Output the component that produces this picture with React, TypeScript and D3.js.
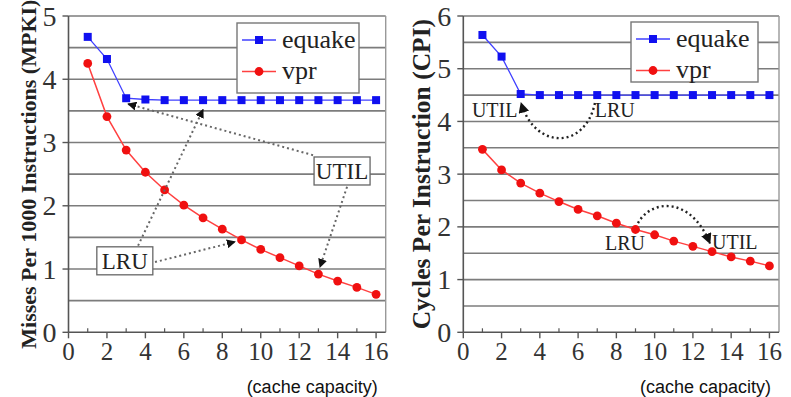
import React from 'react'
import * as d3 from 'd3'

const capacity = [1, 2, 3, 4, 5, 6, 7, 8, 9, 10, 11, 12, 13, 14, 15, 16]
const xTicks = [0, 2, 4, 6, 8, 10, 12, 14, 16]

const mpkiEquake = [4.67, 4.32, 3.7, 3.68, 3.67, 3.67, 3.67, 3.67, 3.67, 3.67, 3.67, 3.67, 3.67, 3.67, 3.67, 3.67]
const mpkiVpr = [4.25, 3.41, 2.88, 2.53, 2.25, 2.01, 1.81, 1.63, 1.46, 1.31, 1.18, 1.05, 0.92, 0.81, 0.71, 0.6]
const mpkiTicks = [0, 1, 2, 3, 4, 5]

const cpiEquake = [5.64, 5.23, 4.52, 4.5, 4.5, 4.5, 4.5, 4.5, 4.5, 4.5, 4.5, 4.5, 4.5, 4.5, 4.5, 4.5]
const cpiVpr = [3.47, 3.08, 2.83, 2.64, 2.48, 2.33, 2.21, 2.07, 1.95, 1.85, 1.73, 1.63, 1.53, 1.43, 1.35, 1.26]
const cpiTicks = [0, 1, 2, 3, 4, 5, 6]

const seriesNames = ['equake', 'vpr']

const serif = 'Liberation Serif, Times New Roman, serif'
const sans = 'Liberation Sans, Arial, sans-serif'
const BLUE = '#1010f0'
const RED = '#f01010'

type Scale = d3.ScaleLinear<number, number>

interface PanelProps {
  x0: number
  x1: number
  yMax: number
  yTicks: number[]
  yLabel: string
  yLabelSize: number
  equake: number[]
  vpr: number[]
  legend: { x: number; y: number; w: number; h: number }
  annotate: (x: Scale, y: Scale) => React.ReactNode
}

const Panel = ({ x0, x1, yMax, yTicks, yLabel, yLabelSize, equake, vpr, legend, annotate }: PanelProps) => {
  const x = d3.scaleLinear().domain([0, 16.5]).range([x0, x1])
  const y = d3.scaleLinear().domain([0, yMax]).range([332.3, 16])
  const line = d3.line<number>().x((d, i) => x(capacity[i])).y((d) => y(d))
  const grid = d3.range(0.5, yMax + 0.01, 0.5)
  const minorX = d3.range(1, 16.5, 2)
  const midY = (y(0) + y(yMax)) / 2

  return (
    <g>
      {grid.map((g) => (
        <line key={g} x1={x(0)} x2={x1} y1={y(g)} y2={y(g)} stroke="#7c7c7c" strokeWidth={1.6} />
      ))}
      <line x1={x1} x2={x1} y1={y(0)} y2={y(yMax)} stroke="#999" strokeWidth={1.4} />
      <line x1={x(0)} x2={x(0)} y1={y(0)} y2={y(yMax)} stroke="#555" strokeWidth={1.6} />
      <line x1={x(0)} x2={x1} y1={y(0)} y2={y(0)} stroke="#555" strokeWidth={1.6} />
      {yTicks.map((t) => (
        <g key={t}>
          <line x1={x(0) - 6} x2={x(0)} y1={y(t)} y2={y(t)} stroke="#555" strokeWidth={1.4} />
          <text x={x(0) - 12} y={y(t)} dy="0.34em" textAnchor="end" fontFamily={serif} fontSize={28} fill="#333">{t}</text>
        </g>
      ))}
      {xTicks.map((t) => (
        <g key={t}>
          <line x1={x(t)} x2={x(t)} y1={y(0)} y2={y(0) + 6} stroke="#555" strokeWidth={1.4} />
          <text x={x(t)} y={360} textAnchor="middle" fontFamily={serif} fontSize={25} fill="#333">{t}</text>
        </g>
      ))}
      {minorX.map((t) => (
        <line key={t} x1={x(t)} x2={x(t)} y1={y(0)} y2={y(0) - 4} stroke="#555" strokeWidth={1.2} />
      ))}
      <text
        transform={`translate(${x0 - 33},${midY}) rotate(-90)`}
        textAnchor="middle"
        fontFamily={serif}
        fontWeight="bold"
        fontSize={yLabelSize}
        fill="#222"
      >
        {yLabel}
      </text>
      <text x={x1 - 8} y={393} textAnchor="end" fontFamily={sans} fontSize={18} fill="#111">(cache capacity)</text>

      <path d={line(equake) || ''} fill="none" stroke="#4040ff" strokeWidth={1.3} />
      {equake.map((v, i) => (
        <rect key={i} x={x(capacity[i]) - 4} y={y(v) - 4} width={8} height={8} fill={BLUE} />
      ))}
      <path d={line(vpr) || ''} fill="none" stroke="#ff4040" strokeWidth={1.5} />
      {vpr.map((v, i) => (
        <circle key={i} cx={x(capacity[i])} cy={y(v)} r={4.4} fill={RED} />
      ))}

      <rect x={legend.x} y={legend.y} width={legend.w} height={legend.h} fill="#fff" stroke="#777" strokeWidth={1.4} />
      {seriesNames.map((name, i) => {
        const ly = legend.y + 17 + i * 31.5
        const col = i === 0 ? BLUE : RED
        return (
          <g key={name}>
            <line x1={legend.x + 5} x2={legend.x + 39} y1={ly} y2={ly} stroke={i === 0 ? '#4040ff' : '#ff4040'} strokeWidth={1.3} />
            {i === 0
              ? <rect x={legend.x + 22 - 4} y={ly - 4} width={8} height={8} fill={col} />
              : <circle cx={legend.x + 22} cy={ly} r={4.4} fill={col} />}
            <text x={legend.x + 45} y={ly} dy="0.3em" fontFamily={serif} fontSize={26} fill="#222">{name}</text>
          </g>
        )
      })}
      {annotate(x, y)}
    </g>
  )
}

const boxLabel = (cx: number, cy: number, label: string) => (
  <g>
    <rect x={cx - 28} y={cy - 14} width={56} height={28} fill="#fff" stroke="#666" strokeWidth={1.3} />
    <text x={cx} y={cy} dy="0.35em" textAnchor="middle" fontFamily={serif} fontSize={23} fill="#222">{label}</text>
  </g>
)

const dotted = { fill: 'none', stroke: '#666', strokeWidth: 2, strokeDasharray: '2,3', markerEnd: 'url(#arrowHead)' }
const dottedDark = { fill: 'none', stroke: '#222', strokeWidth: 2.4, strokeDasharray: '2,3', markerEnd: 'url(#arrowHead)' }

const leftNotes = (x: Scale, y: Scale) => (
  <g>
    <line x1={x(12.72)} y1={y(2.8)} x2={x(3.1)} y2={y(3.61)} style={dotted} />
    <line x1={x(14.49)} y1={y(2.3)} x2={x(13.08)} y2={y(1.03)} style={dotted} />
    <line x1={x(3.62)} y1={y(1.37)} x2={x(7.0)} y2={y(3.52)} style={dotted} />
    <line x1={x(4.5)} y1={y(1.11)} x2={x(8.66)} y2={y(1.43)} style={dotted} />
    {boxLabel(x(14.23), y(2.55), 'UTIL')}
    {boxLabel(x(2.93), y(1.13), 'LRU')}
  </g>
)

const curve = (x: Scale, y: Scale, pts: number[][]) => {
  const p = d3.path()
  p.moveTo(x(pts[0][0]), y(pts[0][1]))
  p.bezierCurveTo(x(pts[1][0]), y(pts[1][1]), x(pts[2][0]), y(pts[2][1]), x(pts[3][0]), y(pts[3][1]))
  return p.toString()
}

const rightNotes = (x: Scale, y: Scale) => (
  <g>
    <path d={curve(x, y, [[6.88, 4.35], [6.36, 3.46], [3.75, 3.46], [3.02, 4.35]])} style={dottedDark} />
    <path d={curve(x, y, [[9.13, 2.07], [9.76, 2.51], [11.85, 2.61], [12.89, 1.69]])} style={dottedDark} />
    <text x={x(0.45)} y={y(4.08)} fontFamily={serif} fontSize={20} fill="#222">UTIL</text>
    <text x={x(6.87)} y={y(4.08)} fontFamily={serif} fontSize={20} fill="#222">LRU</text>
    <text x={x(8.45)} y={y(1.56)} textAnchor="middle" fontFamily={serif} fontSize={20} fill="#222">LRU</text>
    <text x={x(13.0)} y={y(1.58)} fontFamily={serif} fontSize={20} fill="#222">UTIL</text>
  </g>
)

const App = () => (
  <svg width={791} height={397} style={{ position: 'absolute', left: 0, top: 0, background: '#fff' }}>
    <defs>
      <marker id="arrowHead" viewBox="0 0 10 10" refX="9" refY="5" markerWidth="4.5" markerHeight="4.5" orient="auto">
        <path d="M0,0L10,5L0,10z" fill="#111" />
      </marker>
    </defs>
    <rect width={791} height={397} fill="#fff" />
    <Panel
      x0={68.5}
      x1={385.7}
      yMax={5}
      yTicks={mpkiTicks}
      yLabel="Misses Per 1000 Instructions (MPKI)"
      yLabelSize={22}
      equake={mpkiEquake}
      vpr={mpkiVpr}
      legend={{ x: 237, y: 23, w: 122, h: 70 }}
      annotate={leftNotes}
    />
    <Panel
      x0={463.3}
      x1={779}
      yMax={6}
      yTicks={cpiTicks}
      yLabel="Cycles Per Instruction (CPI)"
      yLabelSize={25.5}
      equake={cpiEquake}
      vpr={cpiVpr}
      legend={{ x: 631, y: 22, w: 127, h: 60 }}
      annotate={rightNotes}
    />
  </svg>
)

export default App
